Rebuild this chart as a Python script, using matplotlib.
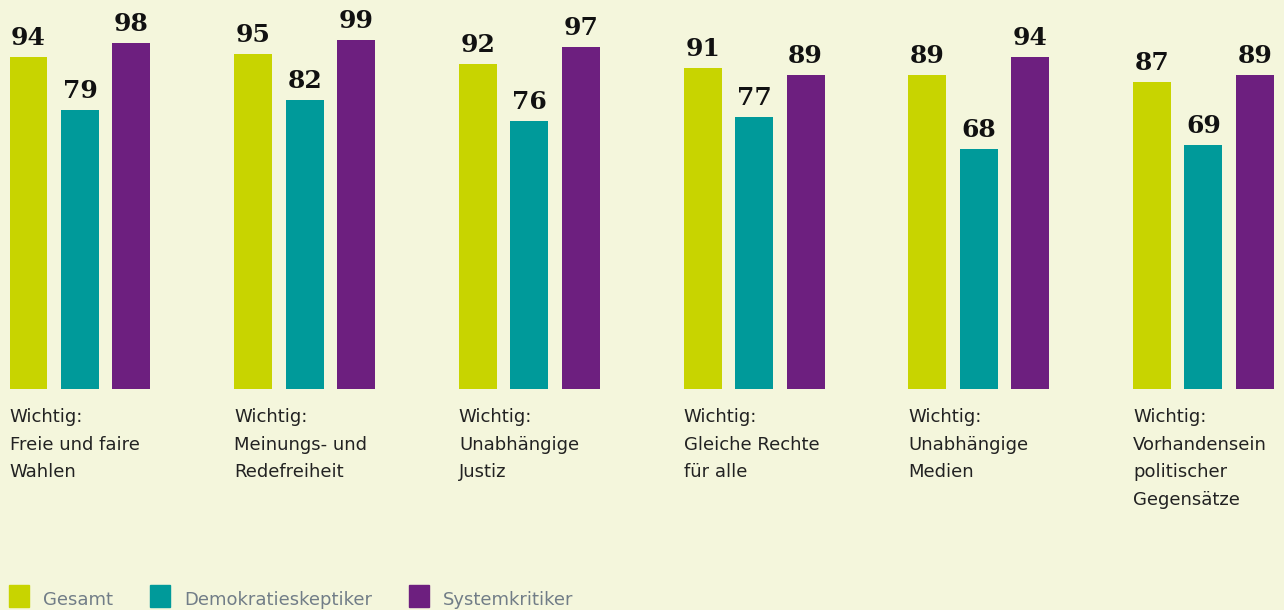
import matplotlib.pyplot as plt
import numpy as np
from matplotlib.patches import Rectangle

categories = ["Wichtig:\nFreie und faire\nWahlen",
              "Wichtig:\nMeinungs- und\nRedefreiheit",
              "Wichtig:\nUnabhängige\nJustiz",
              "Wichtig:\nGleiche Rechte\nfür alle",
              "Wichtig:\nUnabhängige\nMedien",
              "Wichtig:\nVorhandensein\npolitischer\nGegensätze"]
series_names = ["Gesamt", "Demokratieskeptiker", "Systemkritiker"]
gesamt = [94, 95, 92, 91, 89, 87]
skeptiker = [79, 82, 76, 77, 68, 69]
kritiker = [98, 99, 97, 89, 94, 89]

colors = ["#c8d400", "#009a9a", "#6d1f7f"]
bg = "#f4f6dc"

W, H = 1284, 610
fig = plt.figure(figsize=(W / 100, H / 100), dpi=100, facecolor=bg)
base_px = 389
ax = fig.add_axes([0, (H - base_px) / H, 1, base_px / H])
ax.set_facecolor(bg)

group_px = 224.7
bar_w = 38 / group_px
step = 51.5 / group_px
ax.set_xlim(-80 / group_px, (W - 80) / group_px)
ax.set_ylim(0, base_px / 3.53)
ax.axis("off")

x = np.arange(len(categories))
for k, vals in enumerate([gesamt, skeptiker, kritiker]):
    xs = x + (k - 1) * step
    ax.bar(xs, vals, width=bar_w, color=colors[k], label=series_names[k])
    for xi, v in zip(xs, vals):
        ax.annotate(str(v), (xi, v), xytext=(0, 5), textcoords="offset points",
                    ha="center", va="bottom", fontsize=18, fontweight="bold",
                    family="DejaVu Serif", color="#111111")

for xi, lab in zip(x, categories):
    ax.text(xi - step - bar_w / 2, -19 / 3.53, lab, ha="left", va="top",
            fontsize=13, color="#222222", linespacing=1.68,
            family="DejaVu Sans")

# legend
leg_x = [9, 150, 409]
for lx, name, c in zip(leg_x, series_names, colors):
    fig.patches.append(Rectangle((lx / W, (H - 607) / H), 20 / W, 22 / H,
                                 transform=fig.transFigure, color=c))
    fig.text((lx + 34) / W, (H - 600) / H, name, ha="left", va="center",
             fontsize=13, color="#717d87", family="DejaVu Sans")

fig.savefig("out.png", dpi=100, facecolor=bg)
